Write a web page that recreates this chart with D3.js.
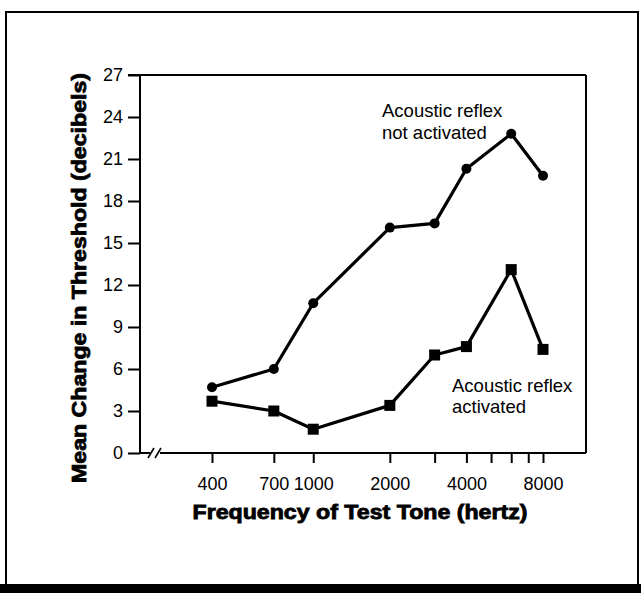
<!DOCTYPE html>
<html><head><meta charset="utf-8">
<script src="https://cdn.jsdelivr.net/npm/d3@7"></script>
<style>body{margin:0;background:#fff}svg{display:block}</style>
</head><body>
<script>
const freqs = [400, 700, 1000, 2000, 3000, 4000, 6000, 8000];
const notActivated = [4.7, 6.0, 10.7, 16.1, 16.4, 20.3, 22.8, 19.8];
const activated = [3.7, 3.0, 1.7, 3.4, 7.0, 7.6, 13.1, 7.4];
const xTickValues = [400, 700, 1000, 2000, 3000, 4000, 5000, 6000, 7000, 8000];
const xTickLabels = [400, 700, 1000, 2000, 4000, 8000];
const yTickValues = [0, 3, 6, 9, 12, 15, 18, 21, 24, 27];
const labelNot = ["Acoustic reflex", "not activated"];
const labelAct = ["Acoustic reflex", "activated"];
const xTitle = "Frequency of Test Tone (hertz)";
const yTitle = "Mean Change in Threshold (decibels)";

const W = 641, H = 593;
const L = 140, T = 75, R = 586, B = 453;
const font = "Liberation Sans, Arial, Helvetica, sans-serif";
const svg = d3.select("body").append("svg").attr("width", W).attr("height", H);

// outer frame
svg.append("rect").attr("x", 6).attr("y", 12).attr("width", 632).attr("height", 574)
  .attr("fill", "none").attr("stroke", "#000").attr("stroke-width", 2);
svg.append("rect").attr("x", 0).attr("y", 584).attr("width", W).attr("height", 9).attr("fill", "#000");

const x = d3.scaleLog().domain([400, 8000]).range([212, 543]);
const y = d3.scaleLinear().domain([0, 27]).range([B, T]);

// plot box top & right
svg.append("line").attr("x1", 128).attr("x2", R).attr("y1", T).attr("y2", T).attr("stroke", "#000").attr("stroke-width", 2);
svg.append("line").attr("x1", R).attr("x2", R).attr("y1", T).attr("y2", B).attr("stroke", "#000").attr("stroke-width", 2);

// y axis
const yAxis = d3.axisLeft(y).tickValues(yTickValues).tickSize(12).tickPadding(5).tickFormat(d3.format("d"));
const gy = svg.append("g").attr("transform", `translate(${L},0)`).call(yAxis);
gy.select(".domain").attr("stroke-width", 2).attr("d", `M0,${T}V${B}`);
gy.selectAll(".tick line").attr("stroke-width", 2);
gy.selectAll("text").attr("font-family", font).attr("font-size", 18).attr("fill", "#000");

// x axis bottom line with break
const gx = svg.append("g").attr("transform", `translate(0,${B})`);
gx.append("line").attr("x1", L).attr("x2", 150).attr("y1", 0).attr("y2", 0).attr("stroke", "#000").attr("stroke-width", 2);
gx.append("line").attr("x1", 160).attr("x2", R).attr("y1", 0).attr("y2", 0).attr("stroke", "#000").attr("stroke-width", 2);
[151, 158].forEach(sx => gx.append("line").attr("x1", sx - 3).attr("x2", sx + 3).attr("y1", 5).attr("y2", -5).attr("stroke", "#000").attr("stroke-width", 1.6));

const xAxis = d3.axisBottom(x).tickValues(xTickValues).tickSize(10).tickPadding(14)
  .tickFormat(d => xTickLabels.includes(d) ? d : "");
const gxa = svg.append("g").attr("transform", `translate(0,${B})`).call(xAxis);
gxa.select(".domain").remove();
gxa.selectAll(".tick line").attr("stroke-width", 2);
gxa.selectAll("text").attr("font-family", font).attr("font-size", 18).attr("fill", "#000");

// lines
const line = d3.line().x((d, i) => x(freqs[i])).y(d => y(d));
[notActivated, activated].forEach(s =>
  svg.append("path").datum(s).attr("d", line).attr("fill", "none").attr("stroke", "#000")
    .attr("stroke-width", 3.2).attr("stroke-linejoin", "round"));

svg.append("g").selectAll("circle").data(notActivated).join("circle")
  .attr("cx", (d, i) => x(freqs[i])).attr("cy", d => y(d)).attr("r", 5).attr("fill", "#000");
svg.append("g").selectAll("rect").data(activated).join("rect")
  .attr("x", (d, i) => x(freqs[i]) - 5.5).attr("y", d => y(d) - 5.5).attr("width", 11).attr("height", 11).attr("fill", "#000");

// annotations
labelNot.forEach((t, i) => svg.append("text").attr("x", 382).attr("y", 117 + i * 22).text(t)
  .attr("font-family", font).attr("font-size", 18.5));
labelAct.forEach((t, i) => svg.append("text").attr("x", 452).attr("y", 392 + i * 21).text(t)
  .attr("font-family", font).attr("font-size", 18.5));

// titles
svg.append("text").attr("x", 360).attr("y", 519).attr("text-anchor", "middle").text(xTitle)
  .attr("font-family", font).attr("font-weight", "bold").attr("font-size", 19.5)
  .attr("textLength", 335).attr("lengthAdjust", "spacingAndGlyphs")
  .attr("stroke", "#000").attr("stroke-width", 0.8);
svg.append("text").attr("transform", "translate(86,278) rotate(-90)").attr("text-anchor", "middle").text(yTitle)
  .attr("font-family", font).attr("font-weight", "bold").attr("font-size", 20.5)
  .attr("textLength", 410).attr("lengthAdjust", "spacingAndGlyphs")
  .attr("stroke", "#000").attr("stroke-width", 0.8);
</script>
</body></html>
